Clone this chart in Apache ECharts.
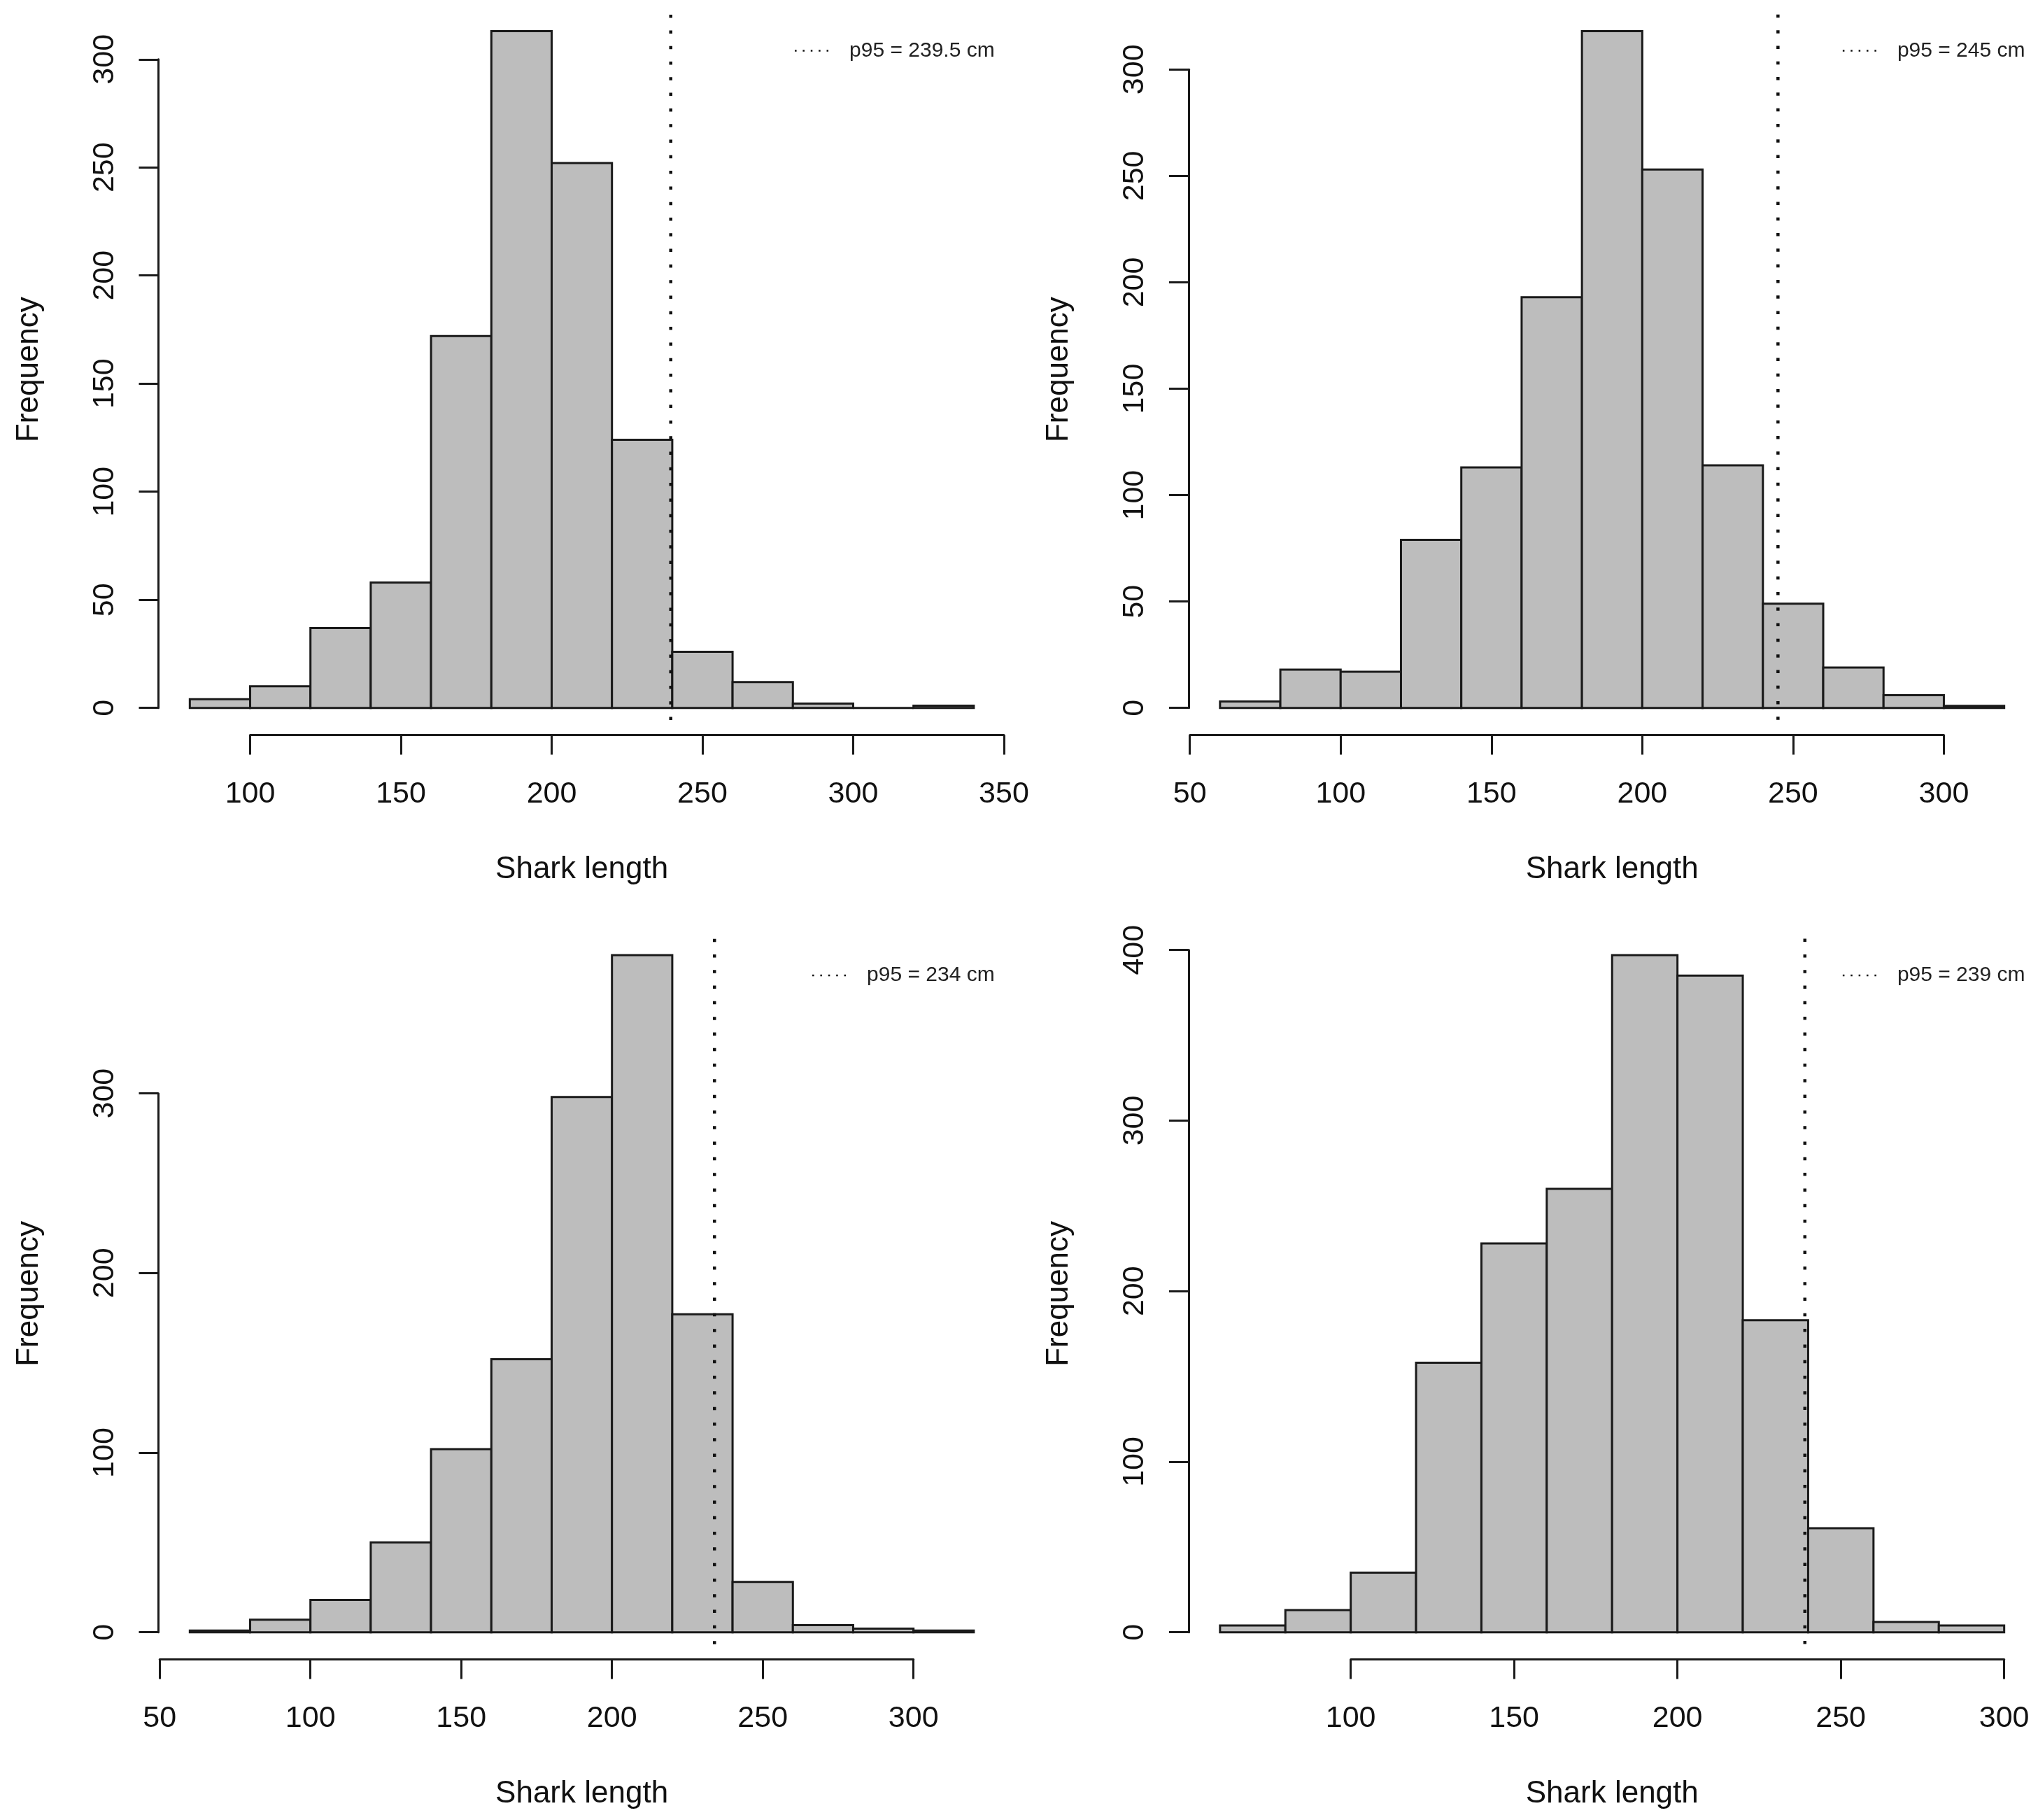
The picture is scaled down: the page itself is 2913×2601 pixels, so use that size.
<!DOCTYPE html>
<html>
<head>
<meta charset="utf-8">
<script src="https://cdn.jsdelivr.net/npm/echarts@6/dist/echarts.min.js"></script>
<style>
html,body{margin:0;padding:0;background:#fff;}
#chart{width:2913px;height:2601px;}
</style>
</head>
<body>
<div id="chart"></div>
<script>
// ---------- data ----------
const binEdges1 = [80,100,120,140,160,180,200,220,240,260,280,300,320,340];
const counts1   = [4,10,37,58,172,313,252,124,26,12,2,0,1];
const binEdges2 = [60,80,100,120,140,160,180,200,220,240,260,280,300,320];
const counts2   = [3,18,17,79,113,193,318,253,114,49,19,6,1];
const binEdges3 = [60,80,100,120,140,160,180,200,220,240,260,280,300,320];
const counts3   = [1,7,18,50,102,152,298,377,177,28,4,2,1];
const binEdges4 = [60,80,100,120,140,160,180,200,220,240,260,280,300];
const counts4   = [4,13,35,158,228,260,397,385,183,61,6,4];

const p95Values = [239.5, 245, 234, 239];
const p95Labels = ['p95 = 239.5 cm', 'p95 = 245 cm', 'p95 = 234 cm', 'p95 = 239 cm'];
const p95Top    = [320.6, 325.8, 386.1, 406.6];
const p95Bottom = [-7.5, -7.7, -9.1, -9.6];

const xTicks1 = [100,150,200,250,300,350];
const xTicks2 = [50,100,150,200,250,300];
const xTicks3 = [50,100,150,200,250,300];
const xTicks4 = [100,150,200,250,300];
const yTicks1 = [0,50,100,150,200,250,300];
const yTicks2 = [0,50,100,150,200,250,300];
const yTicks3 = [0,100,200,300];
const yTicks4 = [0,100,200,300,400];

const xTitle = 'Shark length';
const yTitle = 'Frequency';

// ---------- layout ----------
const W = 2913;
const cols = [[226.5, 1436.7], [1699, 2909.5]];
const rows = [[5.9, 1050.4], [1326.3, 2371.4]];
const FONT = "'Liberation Sans', Arial, Helvetica, sans-serif";
const INK = '#1a1a1a';
const DOTS_ICON = 'path://M0,0h1v1h-1zM4.5,0h1v1h-1zM9,0h1v1h-1zM13.5,0h1v1h-1zM18,0h1v1h-1z';

const panels = [
  {edges: binEdges1, counts: counts1, xt: xTicks1, yt: yTicks1, c: 0, r: 0},
  {edges: binEdges2, counts: counts2, xt: xTicks2, yt: yTicks2, c: 1, r: 0},
  {edges: binEdges3, counts: counts3, xt: xTicks3, yt: yTicks3, c: 0, r: 1},
  {edges: binEdges4, counts: counts4, xt: xTicks4, yt: yTicks4, c: 1, r: 1}
];

const grid = [], xAxis = [], yAxis = [], series = [], legend = [];

panels.forEach((p, i) => {
  const L = cols[p.c][0], R = cols[p.c][1];
  const T = rows[p.r][0], B = rows[p.r][1];
  const e0 = p.edges[0], e1 = p.edges[p.edges.length - 1];
  const span = e1 - e0;
  const xlo = e0 - 0.04 * span, xhi = e1 + 0.04 * span;
  const ymax = Math.max.apply(null, p.counts);
  const ylo = -0.04 * ymax, yhi = 1.04 * ymax;
  const xPix = v => L + (v - xlo) / (xhi - xlo) * (R - L);
  const yPix = v => B - (v - ylo) / (yhi - ylo) * (B - T);

  const gPlot = grid.length;
  grid.push({left: L, top: T, width: R - L, height: B - T, outerBoundsMode: 'none', containLabel: false});
  xAxis.push({
    gridIndex: gPlot, type: 'value', min: xlo, max: xhi,
    axisLine: {show: false}, axisTick: {show: false}, axisLabel: {show: false}, splitLine: {show: false},
    name: xTitle, nameLocation: 'middle', nameGap: 170,
    nameTextStyle: {fontSize: 44, color: '#111', fontFamily: FONT}
  });
  yAxis.push({
    gridIndex: gPlot, type: 'value', min: ylo, max: yhi,
    axisLine: {show: false}, axisTick: {show: false}, axisLabel: {show: false}, splitLine: {show: false},
    name: yTitle, nameLocation: 'middle', nameGap: 163, nameRotate: 90,
    nameTextStyle: {fontSize: 44, color: '#111', fontFamily: FONT}
  });

  // x axis (spans only first..last tick, R style)
  const xt0 = p.xt[0], xtN = p.xt[p.xt.length - 1];
  const gX = grid.length;
  grid.push({left: xPix(xt0), width: xPix(xtN) - xPix(xt0), top: B - 10, height: 10, outerBoundsMode: 'none', containLabel: false});
  xAxis.push({
    gridIndex: gX, type: 'value', min: xt0, max: xtN, interval: p.xt[1] - p.xt[0],
    axisLine: {show: true, lineStyle: {color: INK, width: 3}},
    axisTick: {show: true, length: 28, lineStyle: {color: INK, width: 3}},
    axisLabel: {show: true, margin: 63, fontSize: 43, color: '#111', fontFamily: FONT},
    splitLine: {show: false}
  });
  yAxis.push({gridIndex: gX, type: 'value', show: false, min: 0, max: 1});

  // y axis (spans 0..max tick)
  const yt0 = p.yt[0], ytN = p.yt[p.yt.length - 1];
  const gY = grid.length;
  grid.push({left: L, width: 10, top: yPix(ytN), height: yPix(yt0) - yPix(ytN), outerBoundsMode: 'none', containLabel: false});
  xAxis.push({gridIndex: gY, type: 'value', show: false, min: 0, max: 1});
  yAxis.push({
    gridIndex: gY, type: 'value', min: yt0, max: ytN, interval: p.yt[1] - p.yt[0],
    axisLine: {show: true, lineStyle: {color: INK, width: 3}},
    axisTick: {show: true, length: 28, lineStyle: {color: INK, width: 3}},
    axisLabel: {show: true, rotate: 90, margin: 55, fontSize: 43, color: '#111', fontFamily: FONT},
    splitLine: {show: false}
  });

  // histogram bars
  const rowsData = p.counts.map((c, k) => [p.edges[k], p.edges[k + 1], c]);
  series.push({
    type: 'custom', xAxisIndex: gPlot, yAxisIndex: gPlot, silent: true,
    data: rowsData,
    encode: {x: [0, 1], y: 2},
    renderItem: function (params, api) {
      const a = api.coord([api.value(0), api.value(2)]);
      const b = api.coord([api.value(1), 0]);
      return {
        type: 'rect',
        shape: {x: a[0], y: a[1], width: b[0] - a[0], height: b[1] - a[1]},
        style: {fill: '#bdbdbd', stroke: INK, lineWidth: 3}
      };
    }
  });

  // p95 dotted line
  series.push({
    type: 'line', name: p95Labels[i], xAxisIndex: gPlot, yAxisIndex: gPlot,
    data: [[p95Values[i], p95Top[i]], [p95Values[i], p95Bottom[i]]],
    symbol: 'none', silent: true, z: 5, color: '#111',
    itemStyle: {color: '#111'},
    lineStyle: {color: '#111', width: 4.5, type: [4.5, 17.8]}
  });

  legend.push({
    data: [{name: p95Labels[i], icon: DOTS_ICON}],
    right: W - (R - 15), top: (p.r === 0 ? 72.5 : 1394) - 15,
    padding: 0, itemWidth: 48, itemHeight: 3, selectedMode: false,
    itemStyle: {color: '#111', borderWidth: 0},
    textStyle: {fontSize: 30, color: '#222', fontFamily: FONT, padding: [0, 0, 0, 25]}
  });
});

const chart = echarts.init(document.getElementById('chart'), null, {renderer: 'canvas'});
chart.setOption({
  backgroundColor: '#ffffff',
  animation: false,
  textStyle: {fontFamily: FONT},
  grid: grid, xAxis: xAxis, yAxis: yAxis, series: series, legend: legend
});
</script>
</body>
</html>
